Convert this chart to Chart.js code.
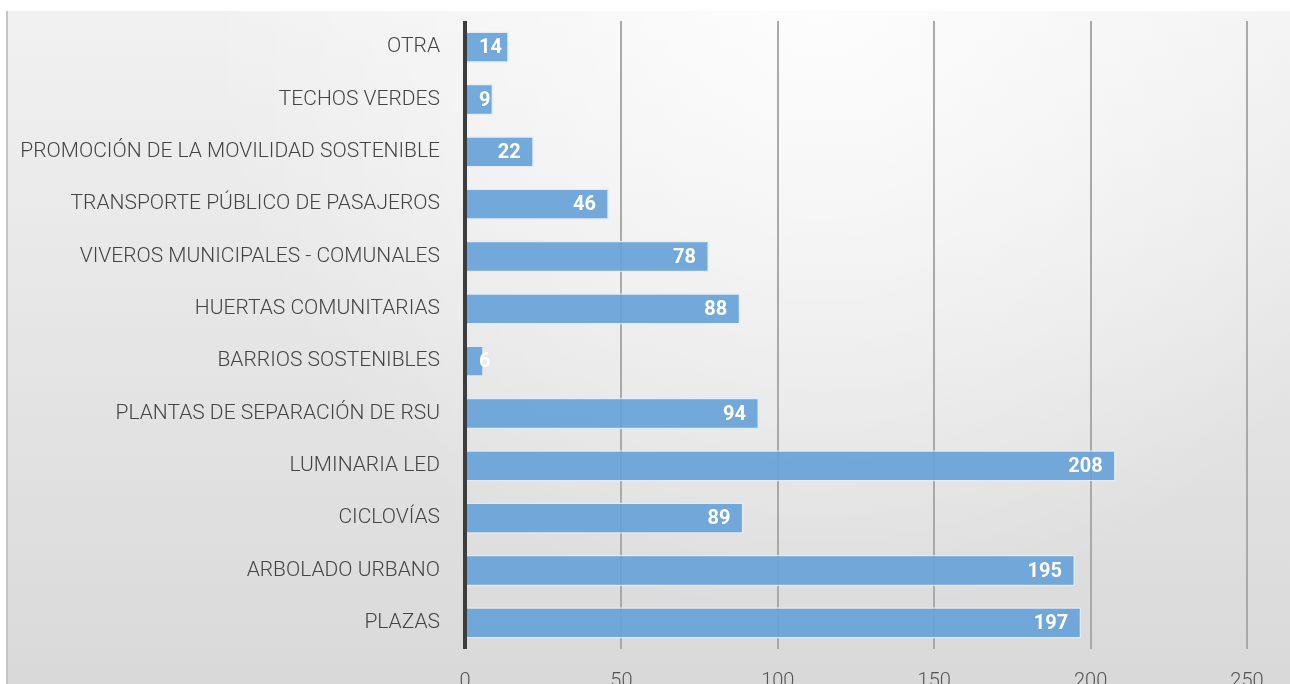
<!DOCTYPE html>
<html>
<head>
<meta charset="utf-8">
<script src="https://cdn.jsdelivr.net/npm/chart.js@4.4.1/dist/chart.umd.min.js"></script>
<style>
html,body{margin:0;padding:0;background:#fff;}
#wrap{width:1290px;height:684px;position:relative;}
</style>
</head>
<body>
<div id="wrap"><canvas id="grafica" width="1290" height="684"></canvas></div>
<script>
// datos
const categorias = [
  "OTRA",
  "TECHOS VERDES",
  "PROMOCIÓN DE LA MOVILIDAD SOSTENIBLE",
  "TRANSPORTE PÚBLICO DE PASAJEROS",
  "VIVEROS MUNICIPALES - COMUNALES",
  "HUERTAS COMUNITARIAS",
  "BARRIOS SOSTENIBLES",
  "PLANTAS DE SEPARACIÓN DE RSU",
  "LUMINARIA LED",
  "CICLOVÍAS",
  "ARBOLADO URBANO",
  "PLAZAS"
]
const valores = [14, 9, 22, 46, 78, 88, 6, 94, 208, 89, 195, 197]
const ticksX = [0, 50, 100, 150, 200, 250]

const fuente = 'Roboto, "Noto Sans", sans-serif'

// fondo degradado
const fondo = {
  id: 'fondo',
  beforeDraw(chart){
    const ctx = chart.ctx
    const w = chart.width, h = chart.height
    ctx.save()
    ctx.fillStyle = '#ffffff'
    ctx.fillRect(0,0,w,h)
    let g = ctx.createLinearGradient(0, 11, 0, h)
    g.addColorStop(0, '#f1f1f1')
    g.addColorStop(1, '#d9d9d9')
    ctx.fillStyle = g
    ctx.fillRect(8, 11, w-8, h-11)
    let r = ctx.createRadialGradient(820, 0, 0, 820, 0, 620)
    r.addColorStop(0, 'rgba(255,255,255,0.85)')
    r.addColorStop(1, 'rgba(255,255,255,0)')
    ctx.fillStyle = r
    ctx.fillRect(8, 11, w-8, h-11)
    ctx.fillStyle = '#c4c4c4'
    ctx.fillRect(6, 11, 2, h-11)
    ctx.restore()
  }
}

// etiquetas de valor dentro de la barra
const etiquetas = {
  id: 'etiquetas',
  afterDatasetsDraw(chart){
    const ctx = chart.ctx
    const meta = chart.getDatasetMeta(0)
    ctx.save()
    ctx.font = 'bold 20px ' + fuente
    ctx.fillStyle = '#ffffff'
    ctx.textAlign = 'right'
    ctx.textBaseline = 'middle'
    meta.data.forEach((bar, i) => {
      const txt = String(valores[i])
      const tw = ctx.measureText(txt).width
      const x = Math.max(bar.base + 13 + tw, bar.x - 13)
      ctx.fillText(txt, x, bar.y + 1)
    })
    ctx.restore()
  }
}

// linea del eje en 0
const eje = {
  id: 'eje',
  afterDatasetsDraw(chart){
    const ctx = chart.ctx
    const a = chart.chartArea
    const x0 = chart.scales.x.getPixelForValue(0)
    ctx.save()
    ctx.fillStyle = '#3d3d3d'
    ctx.fillRect(x0-2, a.top, 4, a.bottom - a.top)
    ctx.restore()
  }
}

new Chart(document.getElementById('grafica'), {
  type: 'bar',
  data: {
    labels: categorias,
    datasets: [{
      data: valores,
      backgroundColor: 'rgba(104,162,216,0.92)',
      borderColor: 'rgba(225,236,248,0.9)',
      borderWidth: 1.5,
      categoryPercentage: 1,
      barPercentage: 0.6
    }]
  },
  options: {
    indexAxis: 'y',
    responsive: false,
    animation: false,
    layout: { padding: { top: 21, right: 43, left: 0, bottom: 0 } },
    plugins: { legend: { display: false }, tooltip: { enabled: false } },
    scales: {
      x: {
        min: 0, max: 250,
        afterBuildTicks(scale){ scale.ticks = ticksX.map(v => ({value: v})) },
        afterFit(scale){ scale.height = 35 },
        border: { display: false },
        grid: { color: '#a9a9a9', lineWidth: 2, drawTicks: false },
        ticks: { color: '#555', font: { family: fuente, size: 20, weight: 300 }, padding: 21 }
      },
      y: {
        afterFit(scale){
          scale.width = 465
          scale.paddingTop = 0
          scale.paddingBottom = 0
        },
        border: { display: false },
        grid: { display: false, drawTicks: false },
        ticks: { color: '#444', font: { family: fuente, size: 21, weight: 300 }, padding: 25 }
      }
    }
  },
  plugins: [fondo, etiquetas, eje]
})
</script>
</body>
</html>
